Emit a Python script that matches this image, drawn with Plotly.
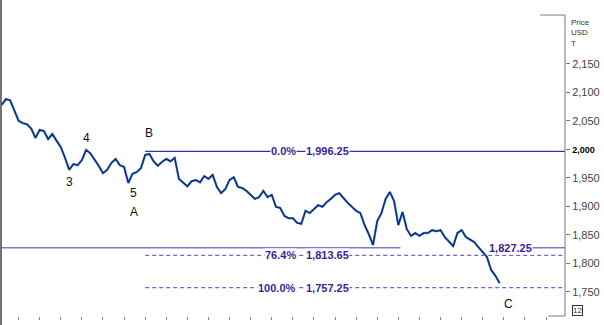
import plotly.graph_objects as go

# ---- data ----
prices = [2078, 2088, 2086, 2067, 2050, 2046, 2044, 2036, 2020, 2034,
          2032, 2018, 2027, 2015, 2004, 1985, 1964, 1974, 1972, 1981,
          1999, 1993, 1983, 1971, 1958, 1964, 1976, 1983, 1972, 1969,
          1941, 1957, 1960, 1967, 1990, 1992, 1979, 1971, 1978, 1983,
          1979, 1985, 1948, 1942, 1935, 1944, 1946, 1942, 1953, 1948,
          1955, 1934, 1923, 1930, 1946, 1951, 1934, 1932, 1927, 1920,
          1913, 1916, 1927, 1916, 1920, 1899, 1897, 1883, 1879, 1879,
          1871, 1869, 1892, 1888, 1895, 1902, 1899, 1907, 1913, 1920,
          1923, 1914, 1906, 1899, 1892, 1888, 1867, 1851, 1832, 1874,
          1888, 1913, 1925, 1909, 1867, 1890, 1860, 1848, 1853, 1848,
          1853, 1853, 1858, 1856, 1858, 1846, 1837, 1830, 1853, 1858,
          1846, 1841, 1837, 1828, 1820, 1811, 1788, 1778, 1765]
days = list(range(len(prices)))

fib_high = 1996.25
fib_low = 1757.25
fib_764 = round(fib_low + (1 - 0.764) * (fib_high - fib_low), 2)
support = 1827.25
marker_price = 1877.6
start_idx = 34          # point B, start of the retracement lines

y_ticks = [1750, 1800, 1850, 1900, 1950, 2000, 2050, 2100, 2150]
y_ticktext = ["1,750", "1,800", "1,850", "1,900", "1,950",
              "<b><span style='font-size:9px;color:#000'>2,000</span></b>",
              "2,050", "2,100", "2,150"]
x_ticks = list(range(4, 130, 5))

wave_labels = [("3", 16, 0, -12), ("4", 20, 0, 12), ("5", 30, 5, -10),
               ("A", 30, 6, -29), ("B", 34, 4, 22), ("C", 118, 9, -21)]

X_RANGE = [-0.17, 133.5]
Y_RANGE = [1707.3, 2235.8]

fig = go.Figure()
fig.add_trace(go.Scatter(x=days, y=prices, mode="lines",
                         line=dict(color="#5aaee0", width=2.4), hoverinfo="skip"))
fig.add_trace(go.Scatter(x=days, y=prices, mode="lines",
                         line=dict(color="#1a2478", width=1.5)))
fig.add_trace(go.Scatter(x=[134.4], y=[marker_price], mode="markers",
                         marker=dict(symbol="diamond", size=7, color="#1b3a8a"),
                         cliponaxis=False))

line_col = "#3232a0"
dash_col = "#7564d0"
shapes = [
    dict(type="line", xref="x", yref="y", x0=start_idx, x1=X_RANGE[1],
         y0=fib_high, y1=fib_high, line=dict(color=line_col, width=1.2)),
    dict(type="line", xref="x", yref="y", x0=start_idx, x1=X_RANGE[1],
         y0=fib_764, y1=fib_764, line=dict(color=dash_col, width=1.2, dash="4px,3px")),
    dict(type="line", xref="x", yref="y", x0=start_idx, x1=X_RANGE[1],
         y0=fib_low, y1=fib_low, line=dict(color=dash_col, width=1.2, dash="4px,3px")),
    dict(type="line", xref="x", yref="y", x0=X_RANGE[0], x1=94.5,
         y0=support, y1=support, line=dict(color="#8478d2", width=1.6)),
    dict(type="line", xref="x", yref="y", x0=125.2, x1=X_RANGE[1],
         y0=support, y1=support, line=dict(color="#8478d2", width=1.6)),
    # frame pieces
    dict(type="line", xref="paper", yref="paper", x0=1, x1=1, y0=0, y1=1,
         line=dict(color="#777", width=1)),
    dict(type="line", xref="paper", yref="paper", x0=0.956, x1=1, y0=1, y1=1,
         line=dict(color="#777", width=1)),
    dict(type="line", xref="paper", yref="paper", x0=0.97, x1=1, y0=0, y1=0,
         line=dict(color="#777", width=1)),
    dict(type="line", xref="paper", yref="paper", x0=0, x1=0, y0=-0.04, y1=1.06,
         line=dict(color="#444", width=1.5)),
]

lab_font = dict(family="Liberation Sans, Arial", size=11, color="#3a1e9e")
annotations = []
for pct, val in [("0.0%", fib_high), ("76.4%", fib_764), ("100.0%", fib_low)]:
    annotations.append(dict(x=70.0, y=val, xref="x", yref="y", text=f"<b>{pct}</b>",
                            showarrow=False, xanchor="right", font=lab_font,
                            bgcolor="white", borderpad=0))
    annotations.append(dict(x=71.9, y=val, xref="x", yref="y", text=f"<b>{val:,.2f}</b>",
                            showarrow=False, xanchor="left", font=lab_font,
                            bgcolor="white", borderpad=0))
annotations.append(dict(x=115.3, y=support, xref="x", yref="y", text=f"<b>{support:,.2f}</b>",
                        showarrow=False, xanchor="left", font=lab_font,
                        bgcolor="white", borderpad=0))
for txt, idx, dx, dy in wave_labels:
    annotations.append(dict(x=idx, y=prices[idx], xref="x", yref="y", text=txt,
                            showarrow=False, xshift=dx, yshift=dy,
                            font=dict(family="Liberation Sans, Arial", size=12, color="#111")))
annotations.append(dict(x=1.007, y=0.997, xref="paper", yref="paper",
                        text="Price<br>USD<br>T", showarrow=False, xanchor="left",
                        yanchor="top", align="left",
                        font=dict(family="Liberation Sans, Arial", size=8, color="#333")))
annotations.append(dict(x=1.012, y=0.017, xref="paper", yref="paper", text="12",
                        showarrow=False, xanchor="left", yanchor="middle",
                        bordercolor="#333", borderwidth=1, borderpad=0,
                        font=dict(family="Liberation Sans, Arial", size=8, color="#333")))

fig.update_layout(
    width=604, height=325,
    margin=dict(l=1, r=39, t=15, b=9),
    paper_bgcolor="white", plot_bgcolor="white",
    showlegend=False,
    shapes=shapes, annotations=annotations,
    xaxis=dict(range=X_RANGE, showgrid=False, zeroline=False, showline=False,
               tickvals=x_ticks, ticktext=[""] * len(x_ticks),
               ticks="outside", ticklen=3, tickcolor="#888"),
    yaxis=dict(range=Y_RANGE, side="right", showgrid=False, zeroline=False,
               showline=False, tickvals=y_ticks, ticktext=y_ticktext,
               ticks="outside", ticklen=4, tickcolor="#777",
               tickfont=dict(family="Liberation Sans, Arial", size=11, color="#444")),
)

fig.write_html("out.html")
